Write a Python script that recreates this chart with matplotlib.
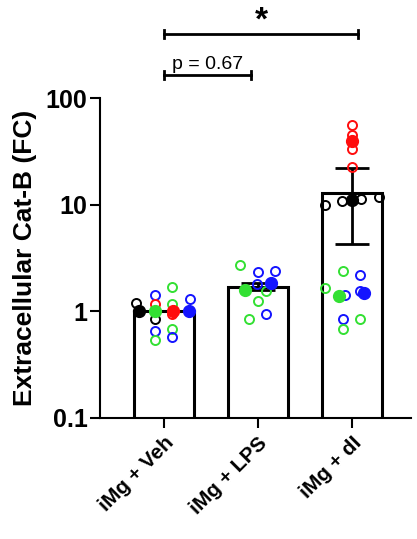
import numpy as np
import matplotlib.pyplot as plt

plt.rcParams['font.family'] = ['Liberation Sans', 'DejaVu Sans']

# conditions and bar summary (fold change)
groups = ["iMg + Veh", "iMg + LPS", "iMg + dI"]
means = [1.0, 1.71, 13.0]
err_low = [1.0, 1.58, 4.3]
err_high = [1.0, 1.85, 22.0]

# individual replicates (open circles): value, x offset, colour
veh_vals = [1.19, 1.41, 1.16, 0.84, 0.66, 0.54, 1.71, 1.16, 0.95, 0.69, 0.58, 1.32]
veh_off = [-0.30, -0.10, -0.10, -0.10, -0.10, -0.10, 0.09, 0.09, 0.09, 0.09, 0.09, 0.28]
veh_col = ['k', 'b', 'r', 'k', 'b', 'g', 'g', 'g', 'r', 'g', 'b', 'b']

lps_vals = [2.75, 2.36, 2.40, 1.54, 1.24, 0.94, 0.84, 1.80]
lps_off = [-0.19, 0.00, 0.18, 0.09, 0.00, 0.09, -0.09, -0.01]
lps_col = ['g', 'b', 'b', 'g', 'g', 'b', 'g', 'b']

di_vals = [56, 45, 33, 22.6, 10.0, 10.9, 11.4, 11.7, 2.4, 2.17, 1.64, 1.41, 1.54, 0.84, 0.84, 0.69]
di_off = [0, 0, 0, 0, -0.28, -0.10, 0.10, 0.29, -0.09, 0.09, -0.28, -0.07, 0.09, -0.09, 0.09, -0.09]
di_col = ['r', 'r', 'r', 'r', 'k', 'k', 'k', 'k', 'g', 'b', 'g', 'b', 'b', 'b', 'g', 'g']

# per-experiment means (filled circles)
veh_mean_vals = [1.0, 1.0, 1.0, 1.0]
veh_mean_off = [-0.27, -0.09, 0.10, 0.27]
veh_mean_col = ['k', 'g', 'r', 'b']

lps_mean_vals = [1.57, 1.83]
lps_mean_off = [-0.14, 0.14]
lps_mean_col = ['g', 'b']

di_mean_vals = [40, 11.1, 1.38, 1.5]
di_mean_off = [0, 0, -0.13, 0.13]
di_mean_col = ['r', 'k', 'g', 'b']

colors = {'k': 'black', 'r': '#ff0d0d', 'g': '#33e033', 'b': '#1414ff'}

fig = plt.figure(figsize=(4.17, 5.39), dpi=100)
ax = fig.add_axes([0.24, 0.2245, 0.745, 0.5935])

x = np.arange(len(groups))
ax.bar(x, means, width=0.64, color='white', edgecolor='black', linewidth=2.2, zorder=1)

yerr = [np.array(means) - np.array(err_low), np.array(err_high) - np.array(means)]
ax.errorbar(x, means, yerr=yerr, fmt='none', ecolor='black', elinewidth=2,
            capsize=12, capthick=2, zorder=2)

open_sets = [(veh_vals, veh_off, veh_col), (lps_vals, lps_off, lps_col), (di_vals, di_off, di_col)]
mean_sets = [(veh_mean_vals, veh_mean_off, veh_mean_col), (lps_mean_vals, lps_mean_off, lps_mean_col),
             (di_mean_vals, di_mean_off, di_mean_col)]

for i, (vals, offs, cols) in enumerate(open_sets):
    for v, o, c in zip(vals, offs, cols):
        ax.plot(i + o, v, 'o', mfc='none', mec=colors[c], ms=6.5, mew=1.4, zorder=3)

for i, (vals, offs, cols) in enumerate(mean_sets):
    for v, o, c in zip(vals, offs, cols):
        ax.plot(i + o, v, 'o', color=colors[c], ms=8.5, zorder=4)

ax.set_yscale('log')
ax.set_ylim(0.1, 100)
ax.set_xlim(-0.68, 2.63)
ax.set_yticks([0.1, 1, 10, 100])
ax.set_yticklabels(['0.1', '1', '10', '100'])
ax.minorticks_off()
ax.set_xticks(x)
ax.set_xticklabels(groups, rotation=45, ha='right', rotation_mode='anchor')
for lab in ax.get_yticklabels():
    lab.set_fontweight('bold')
    lab.set_fontsize(18)
for lab in ax.get_xticklabels():
    lab.set_fontweight('bold')
    lab.set_fontsize(15)
ax.tick_params(axis='y', length=7, width=1.5, pad=2)
ax.tick_params(axis='x', length=7, width=1.5, pad=4)
ax.spines['top'].set_visible(False)
ax.spines['right'].set_visible(False)
ax.spines['left'].set_linewidth(1.5)
ax.spines['bottom'].set_linewidth(1.5)
ax.set_ylabel('Extracellular Cat-B (FC)', fontsize=19, fontweight='bold', labelpad=6)

# significance brackets
def bracket(x0, x1, y, text, weight, size, dy):
    ax.plot([x0, x1], [y, y], color='black', lw=2, clip_on=False)
    for xx in (x0, x1):
        ax.plot([xx, xx], [y / 1.09, y * 1.09], color='black', lw=2, clip_on=False)
    ax.text((x0 + x1) / 2, y * dy, text, ha='center', va='bottom', fontsize=size,
            fontweight=weight, clip_on=False)

bracket(0, 2.07, 400, '*', 'bold', 24, 0.95)
bracket(0, 0.93, 164, 'p = 0.67', 'normal', 14, 1.05)

fig.savefig('out.png', dpi=100)
